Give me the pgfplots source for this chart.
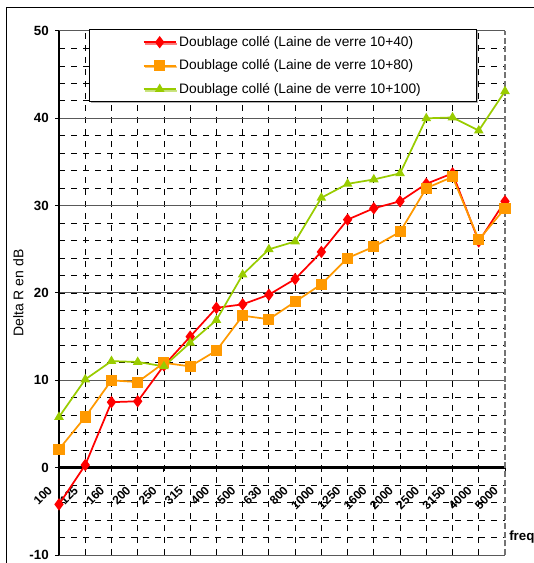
\documentclass[border=0pt]{standalone}
\usepackage{fontspec}
\setmainfont{Liberation Sans}
\usepackage{pgfplots}
\pgfplotsset{compat=1.18}
\usetikzlibrary{shadows}
\definecolor{cred}{RGB}{255,0,0}
\definecolor{corange}{RGB}{255,153,0}
\definecolor{cgreen}{RGB}{153,204,0}
\begin{document}
\begin{tikzpicture}
\useasboundingbox (-44.25pt,-6pt) rectangle (356.25pt,416.25pt);
\draw[black, line width=0.75pt] (-39pt,-20pt) -- (-39pt,410.25pt) -- (370pt,410.25pt);
\begin{axis}[
  at={(0,0)}, anchor=south west,
  scale only axis, width=334.5pt, height=393pt,
  xmin=0, xmax=17, ymin=-10, ymax=50,
  clip=false,
  axis x line=middle, axis y line=left,
  x axis line style={-, line width=2pt, black},
  y axis line style={-, line width=0.9pt, black},
  hide obscured x ticks=false, hide obscured y ticks=false,
  xtick={0,...,17},
  xticklabels={100,125,160,200,250,315,400,500,630,800,1000,1250,1600,2000,2500,3150,4000,5000},
  minor xtick={1,...,16},
  ytick={-10,0,...,50},
  minor ytick={-8,-6,...,48},
  ymajorgrids, yminorgrids, xminorgrids,
  major grid style={solid, black!65, line width=0.75pt},
  minor grid style={black, line width=0.6pt, dash pattern=on 4.5pt off 4.5pt},
  tick align=outside, major tick length=3pt, minor tick length=0pt,
  tick style={black, line width=0.75pt},
  /pgf/number format/assume math mode=true,
  yticklabel style={font=\bfseries\fontsize{10}{12}\selectfont, anchor=east, inner sep=0pt, xshift=-4.5pt},
  xticklabel style={font=\bfseries\fontsize{9}{11}\selectfont, xshift=-6.75pt, yshift=-12.5pt, rotate=45, anchor=east, inner sep=0pt},
  ylabel={Delta R en dB},
  ylabel style={at={(axis description cs:0,0.5)}, anchor=center, yshift=30.4pt, font=\fontsize{10.5}{12}\selectfont},
  xlabel={freq},
  xlabel style={at={(axis description cs:1,0)}, anchor=west, inner sep=0pt, xshift=3pt, yshift=13.5pt, font=\bfseries\fontsize{10}{12}\selectfont},
  legend style={at={(axis description cs:0,1)}, anchor=north west, xshift=22.5pt, yshift=1.5pt,
    draw=black, fill=white, line width=0.75pt, inner xsep=40pt, inner ysep=3pt, row sep=4.5pt,
    drop shadow={shadow xshift=1.2pt, shadow yshift=-1.2pt, fill=black!60},
    font=\fontsize{10.3}{12}\selectfont},
  legend cell align=left,
  legend image code/.code={\draw[mark repeat=2,mark phase=2] plot coordinates {(0pt,0pt) (12pt,0pt) (24pt,0pt)};},
]
\addplot[cred, line width=1.3pt, mark=diamond*, mark size=3.6pt, mark options={solid}] coordinates {
(0,-4.2) (1,0.3) (2,7.5) (3,7.6) (4,11.7) (5,15.0) (6,18.3) (7,18.7) (8,19.8) (9,21.6) (10,24.7) (11,28.4) (12,29.7) (13,30.5) (14,32.5) (15,33.7) (16,25.9) (17,30.5)};
\addlegendentry{Doublage collé (Laine de verre 10+40)}
\addplot[corange, line width=1.3pt, mark=square*, mark size=3.5pt, mark options={solid}] coordinates {
(0,2.1) (1,5.8) (2,10.0) (3,9.8) (4,12.0) (5,11.6) (6,13.4) (7,17.4) (8,17.0) (9,19.0) (10,21.0) (11,24.0) (12,25.3) (13,27.0) (14,32.0) (15,33.3) (16,26.1) (17,29.7)};
\addlegendentry{Doublage collé (Laine de verre 10+80)}
\addplot[cgreen, line width=1.3pt, mark=triangle*, mark size=2.9pt, mark options={solid}] coordinates {
(0,5.8) (1,10.1) (2,12.2) (3,12.1) (4,11.6) (5,14.3) (6,16.9) (7,22.1) (8,25.0) (9,25.9) (10,30.9) (11,32.5) (12,33.0) (13,33.7) (14,40.0) (15,40.1) (16,38.6) (17,43.1)};
\addlegendentry{Doublage collé (Laine de verre 10+100)}
\draw[black!55, line width=0.9pt, dash pattern=on 4.5pt off 2pt] (rel axis cs:1,0) -- (rel axis cs:1,1);
\end{axis}
\end{tikzpicture}
\end{document}
